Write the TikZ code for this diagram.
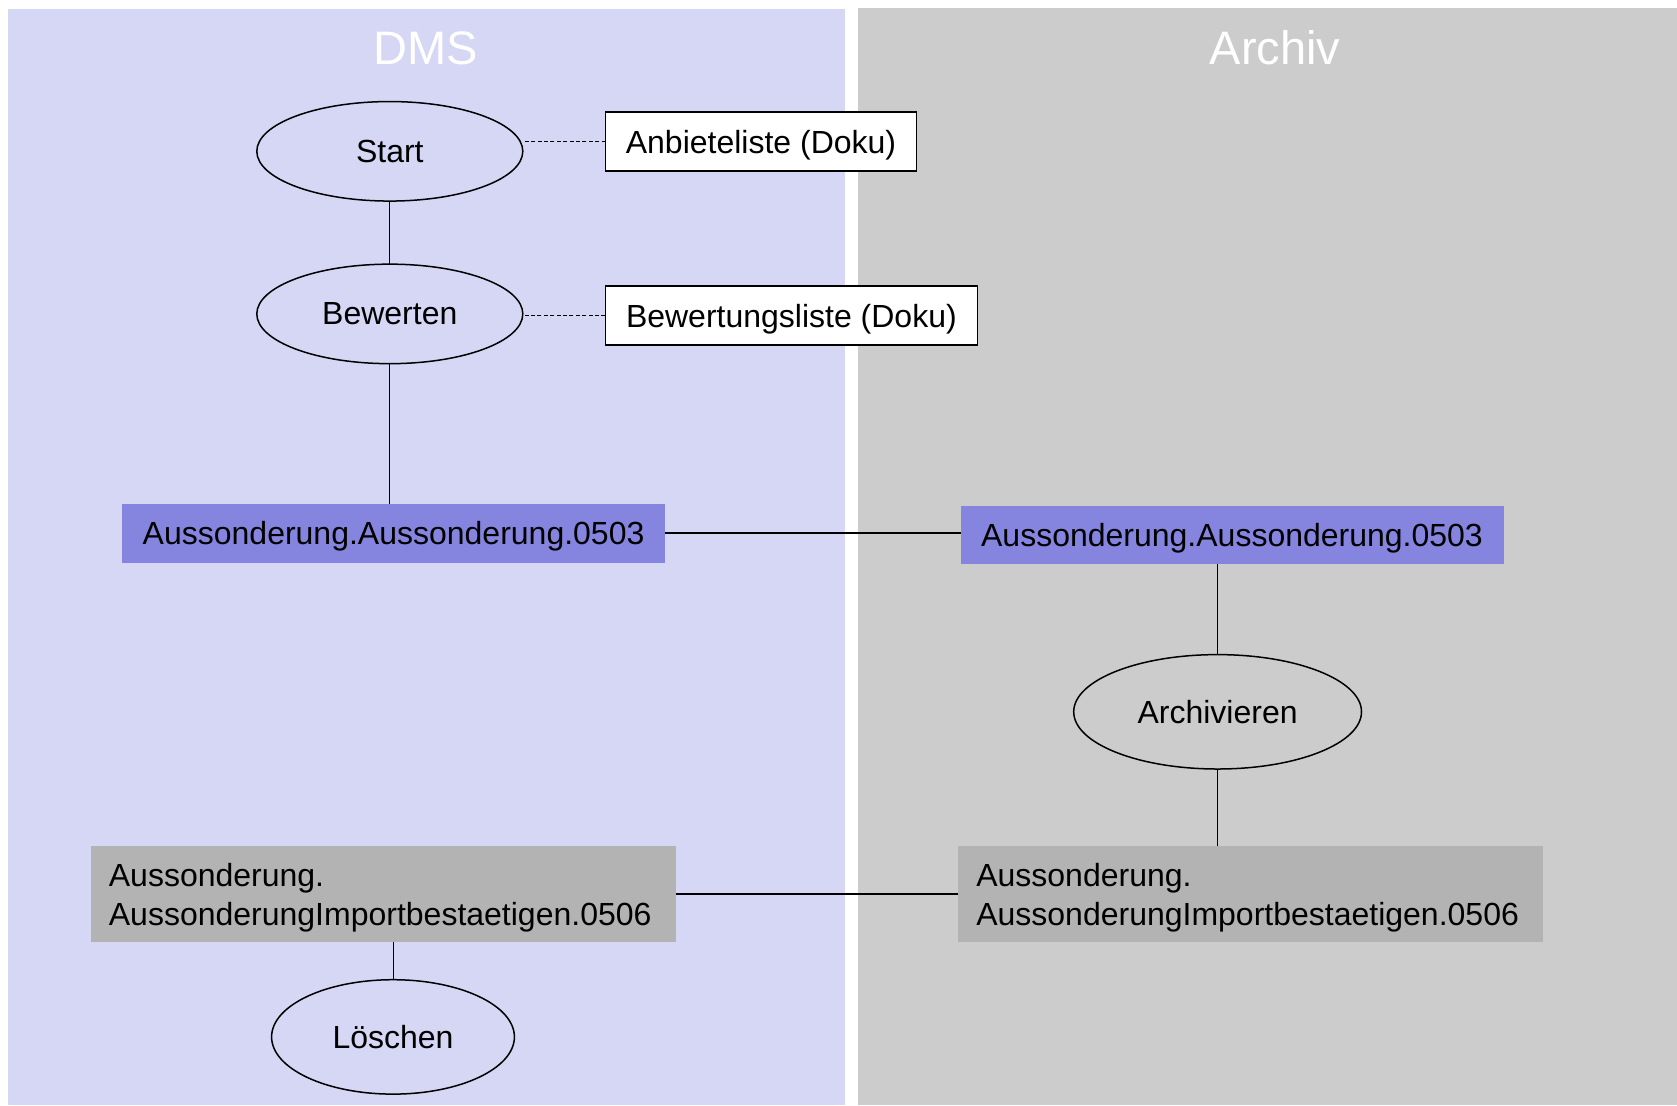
\documentclass[tikz,border=0pt]{standalone}
\usepackage{fontspec}
\setmainfont{Liberation Sans}
\usepackage{tikz}
\usetikzlibrary{shapes.geometric,calc}
\usepackage{xcolor}
\definecolor{dmsbg}{RGB}{214,214,245}
\definecolor{archbg}{RGB}{204,204,204}
\definecolor{msgblue}{RGB}{133,133,224}
\definecolor{ackgray}{RGB}{179,179,179}

\begin{document}
\begin{tikzpicture}[x=0.5pt,y=-0.5pt,line width=0.5pt,
		every node/.style={font=\fontsize{16}{19.8}\selectfont},
		proc/.style={ellipse,draw,line width=0.75pt,inner sep=0pt,outer sep=0pt},
		doku/.style={rectangle,draw,fill=white,line width=0.75pt,minimum height=29.5pt,inner sep=0pt,outer sep=0pt,text height=11.5pt,text depth=0pt},
		msg/.style={rectangle,fill=msgblue,minimum width=271.5pt,minimum height=29.3pt,inner sep=0pt,outer sep=0pt,text height=11.5pt,text depth=0pt},
		ack/.style={rectangle,fill=ackgray,align=left,text width=274.5pt,inner xsep=9pt,inner ysep=0pt,minimum height=48pt,outer sep=0pt,text depth=19.4pt},
		lane/.style={font=\fontsize{23.5}{28}\selectfont,text=white},
		doc/.style={dash pattern=on 2pt off 1.2pt},
		thick link/.style={line width=1pt}]
		\useasboundingbox (0,0) rectangle (1677,1105);
		\fill[dmsbg] (8,9) rectangle (845,1105);
		\fill[archbg] (858,8) rectangle (1677,1105);

		\node[lane] (tdms) at (426,48) {DMS};
		\node[lane] (tarch) at (1275,48) {Archiv};

		\node[proc,minimum width=133pt,minimum height=49.75pt] (start) at (389.8,151.3) {Start};
		\node[proc,minimum width=133pt,minimum height=49.75pt] (bew) at (389.8,313.9) {Bewerten};
		\node[doku,minimum width=155.5pt] (anb) at (761,141.7) {Anbieteliste (Doku)};
		\node[doku,minimum width=186pt] (bewl) at (791.4,315.5) {Bewertungsliste (Doku)};

		\node[msg] (ausL) at (393.6,533.2) {Aussonderung.Aussonderung.0503};
		\node[msg] (ausR) at (1232,534.8) {Aussonderung.Aussonderung.0503};
		\node[proc,minimum width=143.9pt,minimum height=57.2pt] (arch) at (1217.6,711.8) {Archivieren};

		\node[ack] (impL) at (383.4,894.1) {Aussonderung.\\AussonderungImportbestaetigen.0506};
		\node[ack] (impR) at (1250.8,894.1) {Aussonderung.\\AussonderungImportbestaetigen.0506};
		\node[proc,minimum width=121.4pt,minimum height=57.2pt] (loe) at (393,1036.9) {Löschen};

		\draw (start) -- (bew);
		\draw[doc] (anb.west) -- (anb.west -| start.east);
		\draw[doc] (bewl.west) -- (bewl.west -| bew.east);
		\draw (bew.south) -- (bew.south |- ausL.north);
		\draw[thick link] (ausL.east) -- (ausL.east -| ausR.west);
		\draw (arch.north) -- (arch.north |- ausR.south);
		\draw (arch.south) -- (arch.south |- impR.north);
		\draw[thick link] (impL.east) -- (impR.west);
		\draw (loe.north) -- (loe.north |- impL.south);
\end{tikzpicture}
\end{document}
